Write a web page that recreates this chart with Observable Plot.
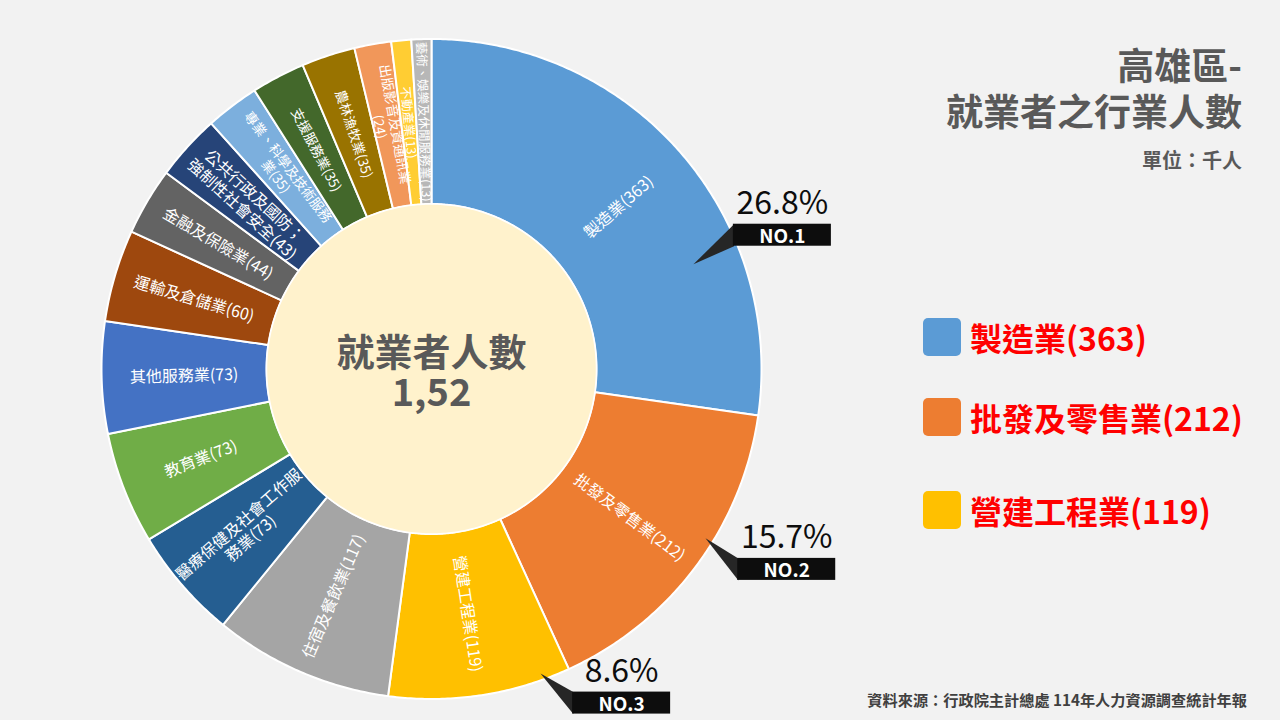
<!DOCTYPE html>
<html>
<head>
<meta charset="utf-8">
<script src="https://cdn.jsdelivr.net/npm/d3@7"></script>
<script src="https://cdn.jsdelivr.net/npm/@observablehq/plot@0.6"></script>
<style>
  html, body { margin: 0; padding: 0; background: #F2F2F2; width: 1280px; height: 720px; overflow: hidden; }
  body { font-family: "Noto Sans CJK TC", "Noto Sans", sans-serif; }
  #wrap { position: relative; width: 1280px; height: 720px; }
  #chart { position: absolute; left: 0; top: 0; }
  #chart svg { display: block; background: transparent; }
  .title { position: absolute; right: 38px; top: 41px; text-align: right; color: #595959; font-weight: 700; font-size: 37px; line-height: 46px; }
  .unit { position: absolute; right: 38px; top: 147px; color: #595959; font-weight: 700; font-size: 20px; line-height: 26px; }
  .source { position: absolute; right: 33px; top: 689px; color: #404040; font-weight: 700; font-size: 15.2px; line-height: 20px; white-space: nowrap; }
  .legend { position: absolute; left: 923px; top: 0; }
  .legend .item { position: absolute; left: 0; display: flex; align-items: center; white-space: nowrap; }
  .legend .sw { width: 38px; height: 38px; border-radius: 5px; margin-right: 9px; flex: none; }
  .legend .lab { color: #FF0000; font-weight: 700; font-size: 32px; line-height: 38px; }
  g[aria-label="slice-labels"] text { letter-spacing: 0.8px; font-weight: 300; }
  g[aria-label="share"] { filter: drop-shadow(1.5px 1.5px 1px rgba(0,0,0,0.3)); }
</style>
</head>
<body>
<div id="wrap">
  <div id="chart"></div>
  <div class="title">高雄區-<br>就業者之行業人數</div>
  <div class="unit">單位：千人</div>
  <div class="legend" id="legend"></div>
  <div class="source">資料來源：行政院主計總處 114年人力資源調查統計年報</div>
</div>
<script>
// ---------- data ----------
const industries = [
  "製造業", "批發及零售業", "營建工程業", "住宿及餐飲業",
  "醫療保健及社會工作服務業", "教育業", "其他服務業", "運輸及倉儲業",
  "金融及保險業", "公共行政及國防；強制性社會安全", "專業、科學及技術服務業",
  "支援服務業", "農林漁牧業", "出版影音及資通訊業", "不動產業", "藝術、娛樂及休閒服務業"
];
const workers = [363, 212, 119, 117, 73, 73, 73, 60, 44, 43, 35, 35, 35, 24, 13, 13];
const sliceLabels = [
  "製造業(363)", "批發及零售業(212)", "營建工程業(119)", "住宿及餐飲業(117)",
  "醫療保健及社會工作服\n務業(73)", "教育業(73)", "其他服務業(73)", "運輸及倉儲業(60)",
  "金融及保險業(44)", "公共行政及國防；\n強制性社會安全(43)", "專業、科學及技術服務\n業(35)",
  "支援服務業(35)", "農林漁牧業(35)", "出版影音及資通訊業\n(24)", "不動產業(13)", "藝術、娛樂及休閒服務業(13)"
];
const centerTitle = "就業者人數";
const centerValue = "1,52";
const rankLabels = ["NO.1", "NO.2", "NO.3"];
const shareLabels = ["26.8%", "15.7%", "8.6%"];
const legendLabels = ["製造業(363)", "批發及零售業(212)", "營建工程業(119)"];

// ---------- styles ----------
const palette = ["#5B9BD5", "#ED7D31", "#FFC000", "#A5A5A5", "#255E91", "#70AD47", "#4472C4", "#9E480E",
                 "#636363", "#264478", "#7CAFDD", "#43682B", "#997300", "#F1975A", "#FFCD33", "#B7B7B7"];

// ---------- layout ----------
const W = 1280, H = 720;
const CX = 431, CY = 368.5, RPX = 330;      // donut centre and outer radius in px
const R_OUT = 1, R_IN = 0.5;                 // radii in scale units
const BOX_W = 98 / RPX, BOX_H = 22 / RPX;
// callout geometry (polar: angle in degrees clockwise from 12 o'clock, radius in outer-radius units)
const calloutLayout = [
  { tipA: 68.2, tipR: 0.855, boxA: 66.1, boxR: 1.0006 },
  { tipA: 121.7, tipR: 0.976, boxA: 123.2, boxR: 1.109 },
  { tipA: 160.3, tipR: 0.98, boxA: 157.1, boxR: 1.099 }
];

const rad = Math.PI / 180;
const polar = (aDeg, r) => ({ x: r * Math.sin(aDeg * rad), y: r * Math.cos(aDeg * rad) });

const rows = industries.map((name, i) => ({ name, value: workers[i], label: sliceLabels[i] }));
const arcs = d3.pie().sort(null).value(d => d.value).startAngle(0).endAngle(2 * Math.PI)(rows);

// slice polygons
const ring = [];
for (const a of arcs) {
  const n = Math.max(2, Math.ceil((a.endAngle - a.startAngle) / (Math.PI / 360)));
  for (let i = 0; i <= n; i++) {
    const t = a.startAngle + (a.endAngle - a.startAngle) * i / n;
    ring.push({ name: a.data.name, x: R_OUT * Math.sin(t), y: R_OUT * Math.cos(t) });
  }
  for (let i = n; i >= 0; i--) {
    const t = a.startAngle + (a.endAngle - a.startAngle) * i / n;
    ring.push({ name: a.data.name, x: R_IN * Math.sin(t), y: R_IN * Math.cos(t) });
  }
}
// hole
const hole = d3.range(0, 361, 1).map(d => polar(d, R_IN));

// slice labels
const labels = arcs.map(a => {
  const mid = (a.startAngle + a.endAngle) / 2 / rad;
  const p = polar(mid, (R_IN + R_OUT) / 2);
  return {
    ...p,
    text: a.data.label,
    rotate: mid <= 180 ? mid - 90 : mid - 270,
    size: a.data.value >= 40 ? 16 : (a.data.value >= 20 ? 13.5 : 12.5)
  };
});

// callouts
const callouts = calloutLayout.map((c, i) => {
  const tip = polar(c.tipA, c.tipR);
  const box = polar(c.boxA, c.boxR);
  return {
    rank: rankLabels[i], share: shareLabels[i],
    tip, x1: box.x, x2: box.x + BOX_W, y1: box.y - BOX_H / 2, y2: box.y + BOX_H / 2,
    cx: box.x + BOX_W / 2, cy: box.y
  };
});
const pointers = callouts.flatMap((c, i) => [
  { id: i, x: c.tip.x, y: c.tip.y },
  { id: i, x: c.x1 + 0.002, y: c.y2 },
  { id: i, x: c.x1 + 0.002, y: c.y1 }
]);

const chart = Plot.plot({
  width: W, height: H, margin: 0,
  style: { background: "transparent", fontFamily: '"Noto Sans CJK TC", "Noto Sans", sans-serif' },
  x: { domain: [-CX / RPX, (W - CX) / RPX], range: [0, W], axis: null },
  y: { domain: [-(H - CY) / RPX, CY / RPX], range: [H, 0], axis: null },
  color: { domain: industries, range: palette },
  marks: [
    Plot.line(ring, { x: "x", y: "y", z: "name", fill: "name", stroke: "white", strokeWidth: 2, strokeLinejoin: "round", curve: "linear-closed" }),
    Plot.line(hole, { x: "x", y: "y", fill: "#FFF2CC", stroke: "white", strokeWidth: 1.5, curve: "linear-closed" }),
    Plot.text(labels, { x: "x", y: "y", text: "text", rotate: "rotate", fontSize: "size", fill: "white", textAnchor: "middle", lineAnchor: "middle", lineHeight: 1.15, ariaLabel: "slice-labels" }),
    Plot.text([centerTitle], { x: () => 0, y: () => 0, text: d => d, fontSize: 38, fontWeight: "bold", fill: "#595959", lineAnchor: "bottom", dy: -3 }),
    Plot.text([centerValue], { x: () => 0, y: () => 0, text: d => d, fontSize: 38, fontWeight: "bold", fill: "#595959", lineAnchor: "bottom", dy: 37 }),
    Plot.line(pointers, { x: "x", y: "y", z: "id", fill: "#262626", stroke: "none", curve: "linear-closed" }),
    Plot.rect(callouts, { x1: "x1", x2: "x2", y1: "y1", y2: "y2", fill: "#0D0D0D" }),
    Plot.text(callouts, { x: "cx", y: "y2", text: "share", fontSize: 32, fill: "#0D0D0D", lineAnchor: "bottom", dy: -10, ariaLabel: "share" }),
    Plot.text(callouts, { x: "cx", y: "cy", text: "rank", fontSize: 19, fontWeight: "bold", fill: "white", lineAnchor: "middle", dy: 1.5 })
  ]
});
document.getElementById("chart").appendChild(chart);

// legend
const legendTops = [318, 398, 491];
const legend = document.getElementById("legend");
legendLabels.forEach((t, i) => {
  const item = document.createElement("div");
  item.className = "item";
  item.style.top = legendTops[i] + "px";
  item.innerHTML = `<div class="sw" style="background:${palette[i]}"></div><div class="lab">${t}</div>`;
  legend.appendChild(item);
});
</script>
</body>
</html>
